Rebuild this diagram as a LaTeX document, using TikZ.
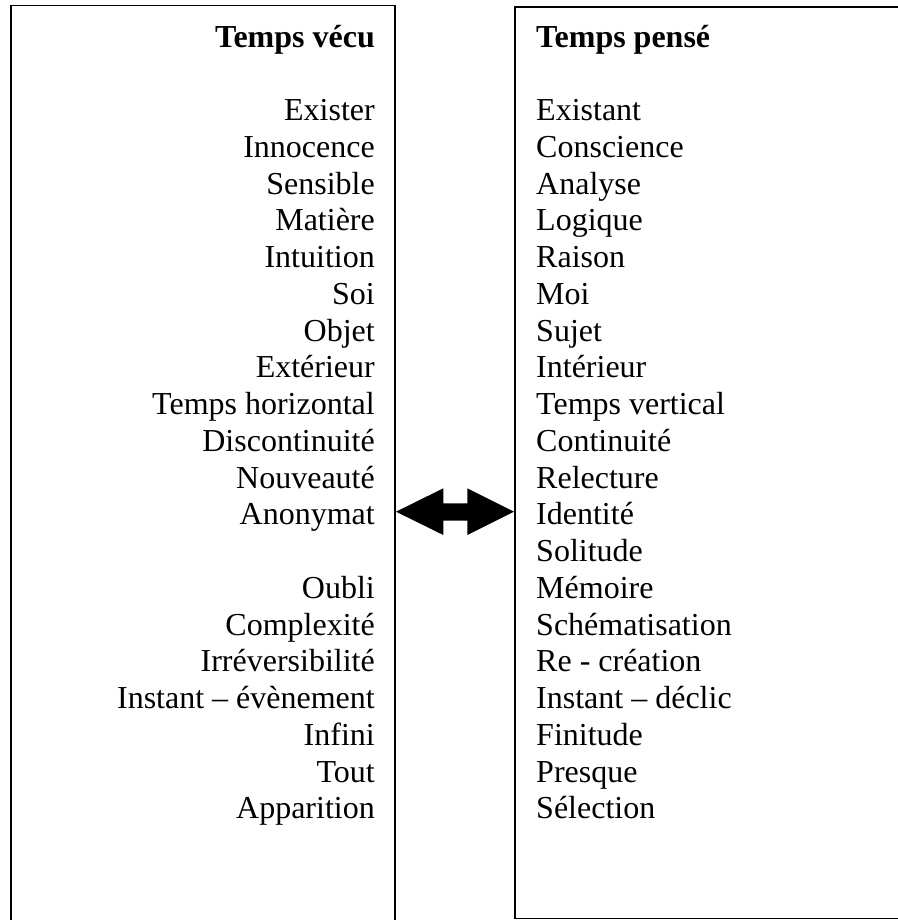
\documentclass[tikz,border=0pt]{standalone}
\usepackage{fontspec}
\setmainfont{Liberation Serif}
\begin{document}
\begin{tikzpicture}[x=1pt, y=-1pt]
			\tikzset{mot/.style={inner sep=0pt, font=\fontsize{32}{37}\selectfont},
			titre/.style={mot, font=\fontsize{32}{37}\selectfont\bfseries},
			boite/.style={draw=black, line width=1.3pt}};

			\useasboundingbox (0,0) rectangle (897,920);

			% les deux colonnes
			\draw[boite] (11,5.5) rectangle (395,935);
			\draw[boite] (515,7) rectangle (910,918.5);

			\node[titre, anchor=base east] (vecu) at (375,48) {Temps vécu};
			\node[titre, anchor=base west] (pense) at (536,48) {Temps pensé};

			\foreach \mot [count=\i] in {Exister, Innocence, Sensible, Matière, Intuition, Soi, Objet,
				Extérieur, Temps horizontal, Discontinuité, Nouveauté, Anonymat, {}, Oubli, Complexité,
				Irréversibilité, Instant – évènement, Infini, Tout, Apparition}{
					\node[mot, anchor=base east] (v-\i) at (375, 120.7 + 36.75 * \i - 36.75) {\mot};
			}
			\foreach \mot [count=\i] in {Existant, Conscience, Analyse, Logique, Raison, Moi, Sujet,
				Intérieur, Temps vertical, Continuité, Relecture, Identité, Solitude, Mémoire,
				Schématisation, Re - création, Instant – déclic, Finitude, Presque, Sélection}{
					\node[mot, anchor=base west] (p-\i) at (536, 120.7 + 36.75 * \i - 36.75) {\mot};
			}

			% double fleche
			\fill[black] (396,511.7) -- (443.3,488.3) -- (443.3,503.3) -- (467.3,503.3) -- (467.3,488.3)
				-- (514,511.7) -- (467.3,535) -- (467.3,520.7) -- (443.3,520.7) -- (443.3,535) -- cycle;

		\end{tikzpicture}
\end{document}
